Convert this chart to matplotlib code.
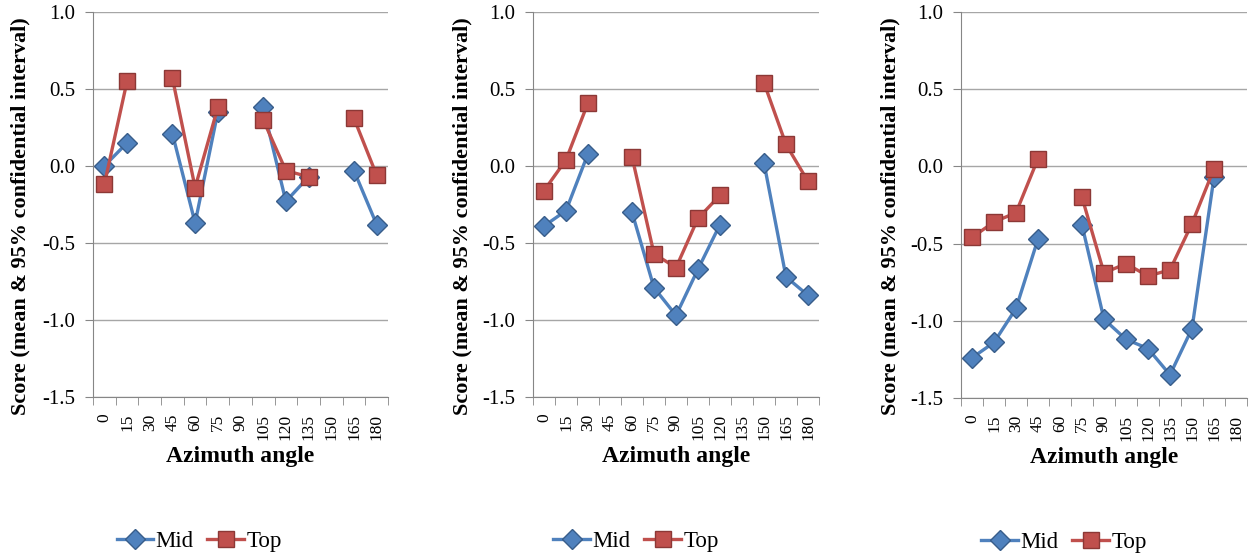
import numpy as np
import matplotlib
matplotlib.use("Agg")
import matplotlib.pyplot as plt

nan = np.nan

# azimuth categories
angles = [0, 15, 30, 45, 60, 75, 90, 105, 120, 135, 150, 165, 180]

# panel 1
mid_1 = [0.00, 0.15, nan, 0.21, -0.37, 0.35, nan, 0.38, -0.23, -0.07, nan, -0.03, -0.38]
top_1 = [-0.12, 0.55, nan, 0.57, -0.14, 0.38, nan, 0.30, -0.03, -0.07, nan, 0.31, -0.06]

# panel 2
mid_2 = [-0.39, -0.29, 0.08, nan, -0.30, -0.79, -0.97, -0.67, -0.38, nan, 0.02, -0.72, -0.84]
top_2 = [-0.16, 0.04, 0.41, nan, 0.06, -0.57, -0.66, -0.34, -0.19, nan, 0.54, 0.14, -0.10]

# panel 3
mid_3 = [-1.24, -1.14, -0.92, -0.47, nan, -0.38, -0.99, -1.12, -1.18, -1.35, -1.05, -0.07, nan]
top_3 = [-0.46, -0.36, -0.30, 0.05, nan, -0.20, -0.69, -0.63, -0.71, -0.67, -0.37, -0.015, nan]

yticks = [-1.5, -1.0, -0.5, 0.0, 0.5, 1.0]

plt.rcParams['font.family'] = ['Liberation Serif', 'DejaVu Serif']

W, H = 1253, 557
fig = plt.figure(figsize=(W / 100, H / 100), dpi=100)

# axes boxes in pixels: left, top, right, bottom
boxes = [(93, 12, 388, 397), (533, 12, 819, 397), (961, 12, 1247, 398)]
panels = [(mid_1, top_1), (mid_2, top_2), (mid_3, top_3)]

blue, blue_edge = '#4F81BD', '#385D8A'
red, red_edge = '#C0504D', '#8C3836'
grid_c = '#A6A6A6'

x = np.arange(len(angles))
for (l, t, r, b), (mid, top) in zip(boxes, panels):
    ax = fig.add_axes([l / W, (H - b) / H, (r - l) / W, (b - t) / H])
    ax.plot(x, mid, color=blue, lw=2.4, marker='D', ms=10,
            mfc=blue, mec=blue_edge, mew=1, label='Mid')
    ax.plot(x, top, color=red, lw=2.4, marker='s', ms=11,
            mfc=red, mec=red_edge, mew=1, label='Top')

    ax.set_xlim(-0.5, len(angles) - 0.5)
    ax.set_ylim(-1.5, 1.0)
    ax.set_yticks(yticks)
    ax.set_yticklabels([f'{v:.1f}' for v in yticks])
    ax.grid(axis='y', color=grid_c, lw=1)
    ax.set_axisbelow(True)

    ax.set_xticks(x)
    ax.set_xticklabels([str(a) for a in angles], rotation=90)
    ax.set_xticks(np.arange(-0.5, len(angles)), minor=True)
    ax.tick_params(axis='x', which='major', length=0, pad=12, labelsize=12.5)
    ax.tick_params(axis='x', which='minor', length=6, color='#868686', direction='out')
    ax.tick_params(axis='y', length=6, color='#868686', pad=7, labelsize=15)

    for s in ['top', 'right']:
        ax.spines[s].set_visible(False)
    for s in ['left', 'bottom']:
        ax.spines[s].set_color('#868686')

    ax.set_ylabel('Score (mean & 95% confidential interval)', fontsize=16,
                  fontweight='bold')
    ax.yaxis.set_label_coords(-0.213, 0.47)
    ax.set_xlabel('Azimuth angle', fontsize=17, fontweight='bold')
    ax.xaxis.set_label_coords(0.5, -0.127)

    ax.legend(loc='center', bbox_to_anchor=(0.36, -0.375), ncol=2, frameon=False,
              fontsize=16.5, handlelength=1.6, handletextpad=0.1, columnspacing=0.6)

fig.savefig('out.png', dpi=100)
